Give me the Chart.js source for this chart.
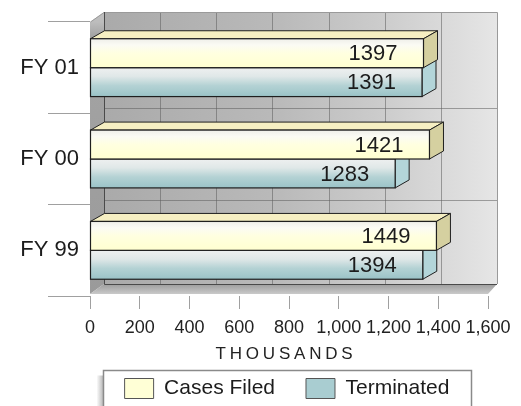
<!DOCTYPE html>
<html>
<head>
<meta charset="utf-8">
<style>
  html, body { margin: 0; padding: 0; background: #ffffff; }
  #wrap { width: 521px; height: 406px; }
  canvas { display: block; }
</style>
<script src="https://cdn.jsdelivr.net/npm/chart.js@4/dist/chart.umd.min.js"></script>
</head>
<body>
<div id="wrap"><canvas id="chart" width="521" height="406"></canvas></div>
<script>
// ---- data ----
const categories = ['FY 01', 'FY 00', 'FY 99'];
const casesFiled = [1397, 1421, 1449];
const terminated = [1391, 1283, 1394];
const seriesNames = ['Cases Filed', 'Terminated'];
const axisMin = 0;
const axisMax = 1600;
const axisStep = 200;
const axisTitle = 'THOUSANDS';

// ---- look ----
const FONT = '"Liberation Sans", Arial, sans-serif';
const TEXT = '#1c1c1c';
const BAR_DX = 14, BAR_DY = -8;     // depth of the bars
const WALL_DX = 14, WALL_DY = -10;  // depth of the back wall
const WALL_COLUMNS = 7;             // panels on the back wall

const faces = [
  { // Cases Filed
    front: [[0, '#efefea'], [0.22, '#fbfbf4'], [0.5, '#ffffe0'], [1, '#ffffd0']],
    top: '#f6efc2', side: '#d5d0a0', swatch: '#ffffd6'
  },
  { // Terminated
    front: [[0, '#eef0f0'], [0.3, '#e0e8e8'], [0.62, '#b4d2d4'], [1, '#9ac3c7']],
    top: '#d3e5e6', side: '#b3d5d9', swatch: '#a9cdd1'
  }
];

function poly(ctx, pts, fill, stroke, lw) {
  ctx.beginPath();
  ctx.moveTo(pts[0][0], pts[0][1]);
  for (let i = 1; i < pts.length; i++) ctx.lineTo(pts[i][0], pts[i][1]);
  ctx.closePath();
  if (fill) { ctx.fillStyle = fill; ctx.fill(); }
  if (stroke) { ctx.strokeStyle = stroke; ctx.lineWidth = lw || 1; ctx.stroke(); }
}

// draws the walls, the floor and the 3D bars around the chart area
const scene3d = {
  id: 'scene3d',
  afterLayout(chart) {
    const lg = chart.legend;
    lg.top += 3; lg.bottom += 3;
    lg.left += 43; lg.right += 43;
    const xs = chart.scales.x;
    if (!xs._spacedTitle) {
      const orig = xs.drawTitle;
      xs.drawTitle = function () {
        const c = this.ctx;
        c.save();
        c.translate(-3, 0);
        c.letterSpacing = '3.8px';
        orig.call(this);
        c.restore();
      };
      xs._spacedTitle = true;
    }
  },
  beforeDatasetsDraw(chart) {
    const ctx = chart.ctx;
    const { left: L, right: R, top: T, bottom: B } = chart.chartArea;
    const bl = L + WALL_DX, bt = T + WALL_DY, br = R + 9, bb = B - 12;
    ctx.save();
    // back wall
    const g = ctx.createLinearGradient(bl, 0, br, 0);
    g.addColorStop(0, '#aaaaaa');
    g.addColorStop(0.45, '#bababa');
    g.addColorStop(0.72, '#cdcdcd');
    g.addColorStop(1, '#e6e6e6');
    ctx.fillStyle = g;
    ctx.fillRect(bl, bt, br - bl, bb - bt);
    // panel lines on the back wall
    ctx.strokeStyle = 'rgba(95,95,95,0.55)';
    ctx.lineWidth = 1;
    for (let i = 1; i < WALL_COLUMNS; i++) {
      const x = Math.round(bl + (br - bl) * i / WALL_COLUMNS) + 0.5;
      ctx.beginPath(); ctx.moveTo(x, bt); ctx.lineTo(x, bb); ctx.stroke();
    }
    const ys = chart.scales.y;
    for (let i = 0; i < categories.length - 1; i++) {
      const y = Math.round((ys.getPixelForValue(i) + ys.getPixelForValue(i + 1)) / 2 - 5) + 0.5;
      ctx.beginPath(); ctx.moveTo(bl, y); ctx.lineTo(br, y); ctx.stroke();
    }
    // left wall
    const lw = ctx.createLinearGradient(0, T, 0, B);
    lw.addColorStop(0, '#bdbdbd');
    lw.addColorStop(0.05, '#a4a4a4');
    lw.addColorStop(1, '#9a9a9a');
    poly(ctx, [[L, T], [bl, bt], [bl, bb], [L, B - 2]], lw);
    // floor
    const fg = ctx.createLinearGradient(0, bb, 0, B - 2);
    fg.addColorStop(0, '#9c9c9c');
    fg.addColorStop(1, '#c9c9c9');
    poly(ctx, [[L, B - 2], [bl, bb], [br, bb], [R, B - 2]], fg);
    // edges
    ctx.strokeStyle = '#9a9a9a';
    ctx.beginPath();
    ctx.moveTo(L + 0.5, T); ctx.lineTo(bl, bt + 0.5); ctx.lineTo(br + 0.5, bt + 0.5); ctx.lineTo(br + 0.5, bb);
    ctx.stroke();
    ctx.strokeStyle = '#4a4a4a';
    ctx.beginPath();
    ctx.moveTo(bl + 0.5, bt); ctx.lineTo(bl + 0.5, bb + 0.5); ctx.lineTo(br, bb + 0.5);
    ctx.stroke();
    ctx.restore();
  },
  beforeDatasetDraw() {
    return false;
  },
  afterDatasetsDraw(chart) {
    const ctx = chart.ctx;
    ctx.save();
    for (let i = 0; i < categories.length; i++) {
      // lower bar first so the upper bar's front covers its hidden top
      for (let d = chart.data.datasets.length - 1; d >= 0; d--) {
        const el = chart.getDatasetMeta(d).data[i];
        const { x, y, base, height } = el.getProps(['x', 'y', 'base', 'height'], true);
        const f = faces[d];
        const yT = y - height / 2, yB = y + height / 2;
        const fx = x - BAR_DX;
        const stroke = '#1f1f1f';
        // top face
        poly(ctx, [[base, yT], [base + BAR_DX, yT + BAR_DY], [x, yT + BAR_DY], [fx, yT]], f.top, stroke, 1);
        // side face
        poly(ctx, [[fx, yT], [x, yT + BAR_DY], [x, yB + BAR_DY], [fx, yB]], f.side, stroke, 1);
        // front face
        const gr = ctx.createLinearGradient(0, yT, 0, yB);
        f.front.forEach(s => gr.addColorStop(s[0], s[1]));
        ctx.fillStyle = gr;
        ctx.fillRect(base, yT, fx - base, yB - yT);
        ctx.strokeStyle = stroke;
        ctx.lineWidth = 1.2;
        ctx.strokeRect(base, yT, fx - base, yB - yT);
      }
    }
    // value labels
    ctx.font = '22px ' + FONT;
    ctx.fillStyle = TEXT;
    ctx.textAlign = 'right';
    ctx.textBaseline = 'middle';
    chart.data.datasets.forEach((ds, d) => {
      chart.getDatasetMeta(d).data.forEach((el, i) => {
        const { x, y } = el.getProps(['x', 'y'], true);
        ctx.fillText(String(ds.data[i]), x - BAR_DX - 26, y + 1);
      });
    });
    ctx.restore();
  },
  afterDraw(chart) {
    const ctx = chart.ctx;
    const hb = chart.legend.legendHitBoxes;
    if (!hb || !hb.length) return;
    const last = hb[hb.length - 1];
    const fl = Math.round(hb[0].left - 22) + 0.5;
    const fr = Math.round(last.left + last.width + 22) + 0.5;
    const ft = Math.round(hb[0].top - 8) + 0.5;
    ctx.save();
    const sg = ctx.createLinearGradient(fl - 7, 0, fl, 0);
    sg.addColorStop(0, 'rgba(120,120,120,0)');
    sg.addColorStop(1, 'rgba(120,120,120,0.55)');
    ctx.fillStyle = sg;
    ctx.fillRect(fl - 7, ft + 5, 7, 406 - ft);
    ctx.strokeStyle = '#8a8a8a';
    ctx.lineWidth = 1.5;
    ctx.strokeRect(fl, ft, fr - fl, 406 - ft + 4);
    ctx.restore();
  }
};

new Chart(document.getElementById('chart'), {
  type: 'bar',
  data: {
    labels: categories,
    datasets: [
      { label: seriesNames[0], data: casesFiled, backgroundColor: faces[0].swatch, borderColor: '#555555', borderWidth: 1 },
      { label: seriesNames[1], data: terminated, backgroundColor: faces[1].swatch, borderColor: '#555555', borderWidth: 1 }
    ]
  },
  options: {
    indexAxis: 'y',
    responsive: false,
    animation: false,
    events: [],
    datasets: { bar: { categoryPercentage: 0.633, barPercentage: 1 } },
    layout: { padding: { top: 22, right: 33, left: 0, bottom: 0 } },
    scales: {
      x: {
        min: axisMin, max: axisMax,
        ticks: { stepSize: axisStep, color: '#222222', padding: 8, maxRotation: 0, minRotation: 0, autoSkip: false, font: { family: FONT, size: 18 } },
        grid: { drawOnChartArea: false, tickLength: 13, color: '#a0a0a0' },
        border: { display: false },
        title: { display: true, text: axisTitle, color: '#222222', font: { family: FONT, size: 17 }, padding: { top: 0, bottom: -21 } },
        afterFit(s) { s.height = 48; }
      },
      y: {
        ticks: { color: TEXT, padding: -31, font: { family: FONT, size: 22 } },
        grid: { drawOnChartArea: false, tickLength: 42, color: '#a0a0a0', offset: true },
        border: { display: false },
        afterFit(s) { s.width = 90; }
      }
    },
    plugins: {
      tooltip: { enabled: false },
      legend: {
        position: 'bottom',
        labels: { color: TEXT, font: { family: FONT, size: 21 }, boxWidth: 29, boxHeight: 20, padding: 31 }
      }
    }
  },
  plugins: [scene3d]
});
</script>
</body>
</html>
